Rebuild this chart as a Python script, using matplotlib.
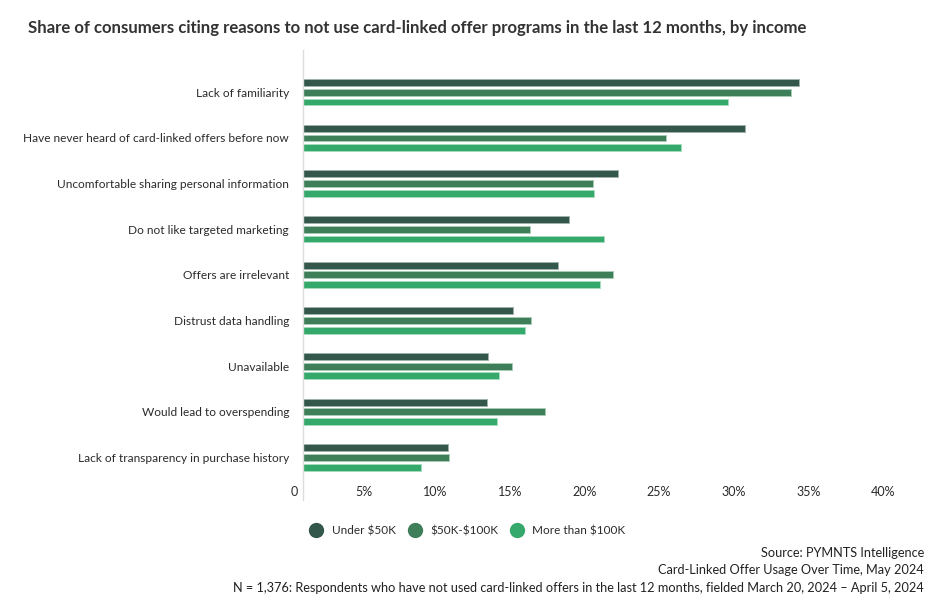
import matplotlib.pyplot as plt
import matplotlib.transforms as mtrans
import numpy as np

plt.rcParams['font.family'] = ['Lato', 'DejaVu Sans']

reasons = ['Lack of familiarity',
           'Have never heard of card-linked offers before now',
           'Uncomfortable sharing personal information',
           'Do not like targeted marketing',
           'Offers are irrelevant',
           'Distrust data handling',
           'Unavailable',
           'Would lead to overspending',
           'Lack of transparency in purchase history']

under_50k = [33.2, 29.6, 21.1, 17.8, 17.1, 14.1, 12.4, 12.3, 9.7]
mid_50_100k = [32.7, 24.3, 19.4, 15.2, 20.8, 15.3, 14.0, 16.2, 9.8]
over_100k = [28.5, 25.3, 19.5, 20.2, 19.9, 14.9, 13.1, 13.0, 7.9]

series = [('Under \\$50K', under_50k, '#33574a', '#9fb3aa'),
          ('\\$50K-\\$100K', mid_50_100k, '#3e7f5a', '#a8cbb5'),
          ('More than \\$100K', over_100k, '#35a86b', '#a5dcbd')]

xticks = [0, 5, 10, 15, 20, 25, 30, 35, 40]
xticklabels = ['0', '5%', '10%', '15%', '20%', '25%', '30%', '35%', '40%']

fig = plt.figure(figsize=(9.36, 6.0), dpi=100)
ax = fig.add_axes([303 / 936, 1 - 482 / 600, 597 / 936, 432 / 600])


def fit(txt, width_px):
    # shrink/grow a text so it spans the width seen in the reference
    fig.canvas.draw()
    w = txt.get_window_extent(fig.canvas.get_renderer()).width
    txt.set_fontsize(txt.get_fontsize() * width_px / w)


y = np.arange(len(reasons))
pitch = 0.2125
h = 0.15
for i, (name, vals, col, edge) in enumerate(series):
    ax.barh(y + (i - 1) * pitch, vals, height=h, color=col,
            edgecolor=edge, linewidth=0.7, label=name)

ax.set_xlim(0, 40)
ax.set_ylim(8.537, -0.927)
ax.set_yticks(y)
ax.set_yticklabels(reasons, fontsize=9, color='#2b2b2b')
ax.set_xticks(xticks)
ax.set_xticklabels([])
# x labels sit right-aligned just left of their tick, like the original
lab_tf = ax.get_xaxis_transform() + mtrans.ScaledTranslation(-5 / 100, 0, fig.dpi_scale_trans)
for v, t in zip(xticks, xticklabels):
    ax.text(v, -10 / 432, t, transform=lab_tf, ha='right', va='center',
            fontsize=9, color='#2b2b2b')
ax.tick_params(axis='both', length=0)
ax.tick_params(axis='y', pad=10)
for s in ['top', 'right', 'bottom']:
    ax.spines[s].set_visible(False)
ax.spines['left'].set_color('#dddddd')
ax.spines['left'].set_linewidth(1)
ax.plot([0, 0], [0, -18 / 432], color='#dddddd', lw=1,
        transform=ax.get_xaxis_transform(), clip_on=False)

title = fig.text(28 / 936, 1 - 28 / 600, 'Share of consumers citing reasons to not use '
                 'card-linked offer programs in the last 12 months, by income',
                 fontsize=12, fontweight='bold', color='#333333', va='center')

handles = [plt.Line2D([], [], marker='o', ls='', markersize=10,
                      markerfacecolor=c, markeredgecolor=c) for _, _, c, _ in series]
fig.legend(handles, [s[0] for s in series], loc='center',
           bbox_to_anchor=(465 / 936, 1 - 531 / 600), ncol=3, frameon=False,
           fontsize=8.5, handletextpad=0.3, columnspacing=0.6,
           labelcolor='#2b2b2b')

notes = ['Source: PYMNTS Intelligence',
         'Card-Linked Offer Usage Over Time, May 2024',
         'N = 1,376: Respondents who have not used card-linked offers in the '
         'last 12 months, fielded March 20, 2024 \u2013 April 5, 2024']
note_txt = []
for k, t in enumerate(notes):
    note_txt.append(fig.text(924 / 936, 1 - (553 + 17.5 * k) / 600, t, ha='right',
                             va='center', fontsize=9, color='#222222'))

fit(title, 775)
fit(ax.get_yticklabels()[1], 266)
fs = ax.get_yticklabels()[1].get_fontsize()
ax.set_yticklabels(reasons, fontsize=fs, color='#2b2b2b')
fit(note_txt[2], 696)
for t in note_txt[:2]:
    t.set_fontsize(note_txt[2].get_fontsize())

fig.savefig('out.png', dpi=100)
